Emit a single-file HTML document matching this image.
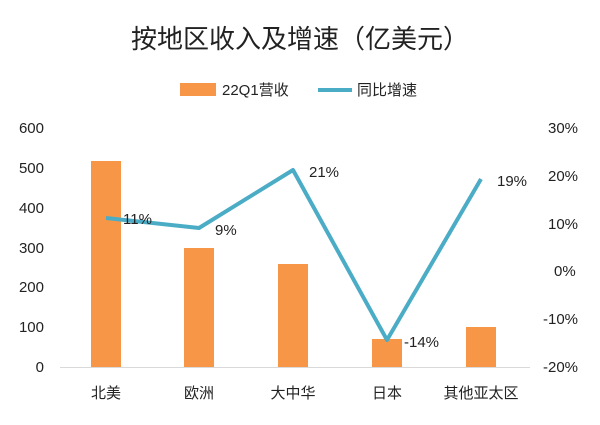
<!DOCTYPE html>
<html><head><meta charset="utf-8"><style>
body{margin:0;background:#fff}
svg text{font-family:"Liberation Sans","Noto Sans CJK SC",sans-serif;fill:#222}
</style></head><body>
<svg width="600" height="420" viewBox="0 0 600 420" xmlns="http://www.w3.org/2000/svg">
<rect width="600" height="420" fill="#fff"/>
<text x="300" y="48" font-size="26" text-anchor="middle">按地区收入及增速（亿美元）</text>
<rect x="180" y="83" width="36" height="13" fill="#F79646"/>
<text x="222" y="95" font-size="15">22Q1营收</text>
<line x1="318" y1="90" x2="352" y2="90" stroke="#4BACC6" stroke-width="4"/>
<text x="357" y="95" font-size="15">同比增速</text>
<g font-size="15" text-anchor="end">
<text x="44" y="133">600</text><text x="44" y="173">500</text><text x="44" y="213">400</text><text x="44" y="253">300</text><text x="44" y="292">200</text><text x="44" y="332">100</text><text x="44" y="372">0</text>
</g>
<g font-size="15" text-anchor="start">
<text x="548" y="133">30%</text><text x="548" y="181">20%</text><text x="548" y="229">10%</text><text x="554" y="276">0%</text><text x="543" y="324">-10%</text><text x="543" y="372">-20%</text>
</g>
<line x1="60" y1="367.5" x2="530" y2="367.5" stroke="#d9d9d9" stroke-width="1"/>
<g fill="#F79646">
<rect x="91" y="161" width="30" height="206"/>
<rect x="184" y="248" width="30" height="119"/>
<rect x="278" y="264" width="30" height="103"/>
<rect x="372" y="339" width="30" height="28"/>
<rect x="466" y="327" width="30" height="40"/>
</g>
<polyline points="106,218 199,228 293,170 387,340 481,179" fill="none" stroke="#4BACC6" stroke-width="4" stroke-linejoin="round"/>
<g font-size="15">
<text x="123" y="224">11%</text><text x="215" y="235">9%</text><text x="309" y="177">21%</text><text x="404" y="347">-14%</text><text x="497" y="186">19%</text>
</g>
<g font-size="15" text-anchor="middle">
<text x="106" y="398">北美</text><text x="199" y="398">欧洲</text><text x="293" y="398">大中华</text><text x="387" y="398">日本</text><text x="481" y="398">其他亚太区</text>
</g>
</svg>
</body></html>
